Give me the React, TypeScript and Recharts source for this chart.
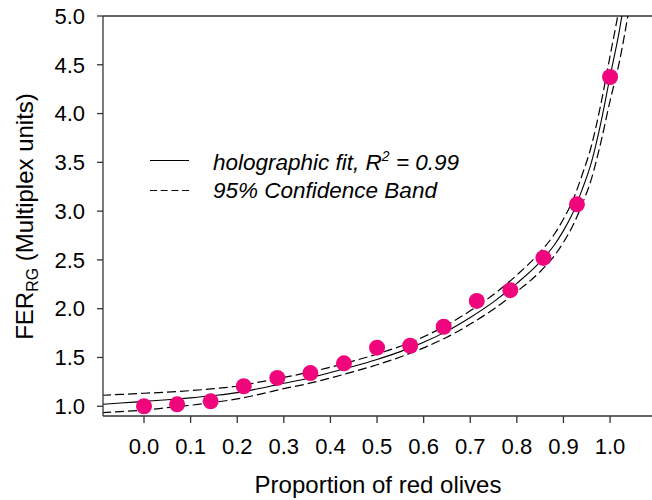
import React from 'react';
import { ComposedChart, Line, Scatter, XAxis, YAxis, ReferenceLine, Legend } from 'recharts';

const curveX = [-0.09, -0.05, 0, 0.05, 0.1, 0.15, 0.2, 0.25, 0.3, 0.35, 0.4, 0.45, 0.5, 0.55, 0.6, 0.65, 0.7, 0.75, 0.8, 0.85, 0.88, 0.9, 0.92, 0.94, 0.96, 0.98, 1.0, 1.02, 1.04];
const fitY = [1.02, 1.033, 1.05, 1.066, 1.086, 1.11, 1.14, 1.185, 1.235, 1.285, 1.345, 1.41, 1.48, 1.56, 1.655, 1.77, 1.91, 2.07, 2.26, 2.48, 2.65, 2.8, 2.98, 3.22, 3.5, 3.9, 4.38, 4.85, 5.45];
const upperY = [1.112, 1.121, 1.133, 1.145, 1.16, 1.18, 1.205, 1.25, 1.295, 1.345, 1.4, 1.465, 1.535, 1.615, 1.712, 1.832, 1.978, 2.145, 2.345, 2.58, 2.76, 2.92, 3.11, 3.37, 3.67, 4.09, 4.59, 5.1, 5.75];
const lowerY = [0.935, 0.945, 0.96, 0.985, 1.01, 1.04, 1.075, 1.125, 1.18, 1.23, 1.29, 1.355, 1.425, 1.505, 1.598, 1.708, 1.842, 1.995, 2.175, 2.38, 2.54, 2.68, 2.85, 3.07, 3.33, 3.7, 4.13, 4.53, 5.05];

// measured points
const proportion = [0, 0.071, 0.143, 0.214, 0.286, 0.357, 0.429, 0.5, 0.571, 0.643, 0.714, 0.786, 0.857, 0.929, 1.0];
const ferValues = [1.0, 1.02, 1.05, 1.205, 1.29, 1.34, 1.44, 1.6, 1.62, 1.815, 2.08, 2.19, 2.52, 3.07, 4.375];

const xTicks = [0, 0.1, 0.2, 0.3, 0.4, 0.5, 0.6, 0.7, 0.8, 0.9, 1.0];
const yTicks = [1.0, 1.5, 2.0, 2.5, 3.0, 3.5, 4.0, 4.5, 5.0];

const fitData = curveX.map((x, i) => ({ x, y: fitY[i] }));
const upperData = curveX.map((x, i) => ({ x, y: upperY[i] }));
const lowerData = curveX.map((x, i) => ({ x, y: lowerY[i] }));
const pointData = proportion.map((x, i) => ({ x, y: ferValues[i] }));

const FONT = '"Liberation Sans", Arial, Helvetica, sans-serif';
const PINK = '#F0067C';
const AXIS = '#333333';

const Dot = (p: any) => <circle cx={p.cx} cy={p.cy} r={8} fill={PINK} />;

const LegendBox = () => (
  <svg width={340} height={60} style={{ display: 'block', overflow: 'visible' }}>
    <line x1={10} y1={15.5} x2={49} y2={15.5} stroke="#000" strokeWidth={1.1} />
    <text x={73} y={24.5} fontSize={22.5} fontStyle="italic" fontFamily={FONT} fill="#000">
      holographic fit, R<tspan dy={-9} fontSize={14}>2</tspan>
      <tspan dy={9}> = 0.99</tspan>
    </text>
    <line x1={10} y1={45.5} x2={49} y2={45.5} stroke="#000" strokeWidth={1.1} strokeDasharray="7 3.7" />
    <text x={73} y={53} fontSize={22.5} fontStyle="italic" fontFamily={FONT} fill="#000">
      95% Confidence Band
    </text>
  </svg>
);

export default function App() {
  return (
    <div style={{ position: 'absolute', left: 0, top: 0, width: 652, height: 500, background: '#fff', fontFamily: FONT }}>
      <ComposedChart width={652} height={500} margin={{ top: 16, right: 0, bottom: 0, left: 0 }}>
        <XAxis
          type="number"
          dataKey="x"
          domain={[-0.088, 1.09]}
          ticks={xTicks}
          interval={0}
          allowDataOverflow
          tickFormatter={(v: number) => v.toFixed(1)}
          height={84}
          tickSize={7}
          tickMargin={15}
          stroke={AXIS}
          strokeWidth={1.3}
          tick={{ fill: '#000', fontSize: 22, fontFamily: FONT }}
        />
        <YAxis
          type="number"
          domain={[0.9, 5]}
          ticks={yTicks}
          interval={0}
          allowDataOverflow
          tickFormatter={(v: number) => v.toFixed(1)}
          width={103}
          tickSize={6}
          tickMargin={12}
          stroke={AXIS}
          strokeWidth={1.3}
          tick={{ fill: '#000', fontSize: 22, fontFamily: FONT }}
        />
        <ReferenceLine y={5} stroke={AXIS} strokeWidth={1.3} />
        <Legend
          layout="vertical"
          align="center"
          verticalAlign="middle"
          content={() => <LegendBox />}
          wrapperStyle={{ position: 'absolute', left: 140, top: 145, width: 340, height: 60 }}
        />
        <Line data={upperData} dataKey="y" type="monotone" stroke="#000" strokeWidth={1.2} strokeDasharray="9 4" dot={false} activeDot={false} isAnimationActive={false} legendType="none" />
        <Line data={lowerData} dataKey="y" type="monotone" stroke="#000" strokeWidth={1.2} strokeDasharray="9 4" dot={false} activeDot={false} isAnimationActive={false} legendType="none" />
        <Line data={fitData} dataKey="y" type="monotone" stroke="#000" strokeWidth={1.1} dot={false} activeDot={false} isAnimationActive={false} legendType="none" />
        <Scatter data={pointData} dataKey="y" shape={<Dot />} isAnimationActive={false} legendType="none" />
      </ComposedChart>
      <svg width={652} height={500} style={{ position: 'absolute', left: 0, top: 0, pointerEvents: 'none' }}>
        <text x={378} y={493} textAnchor="middle" fontSize={24} fontFamily={FONT} fill="#000">
          Proportion of red olives
        </text>
        <text transform="translate(33,216.5) rotate(-90)" textAnchor="middle" fontSize={24} fontFamily={FONT} fill="#000">
          FER<tspan fontSize={16} dy={5}>RG</tspan>
          <tspan dy={-5}> (Multiplex units)</tspan>
        </text>
      </svg>
    </div>
  );
}
